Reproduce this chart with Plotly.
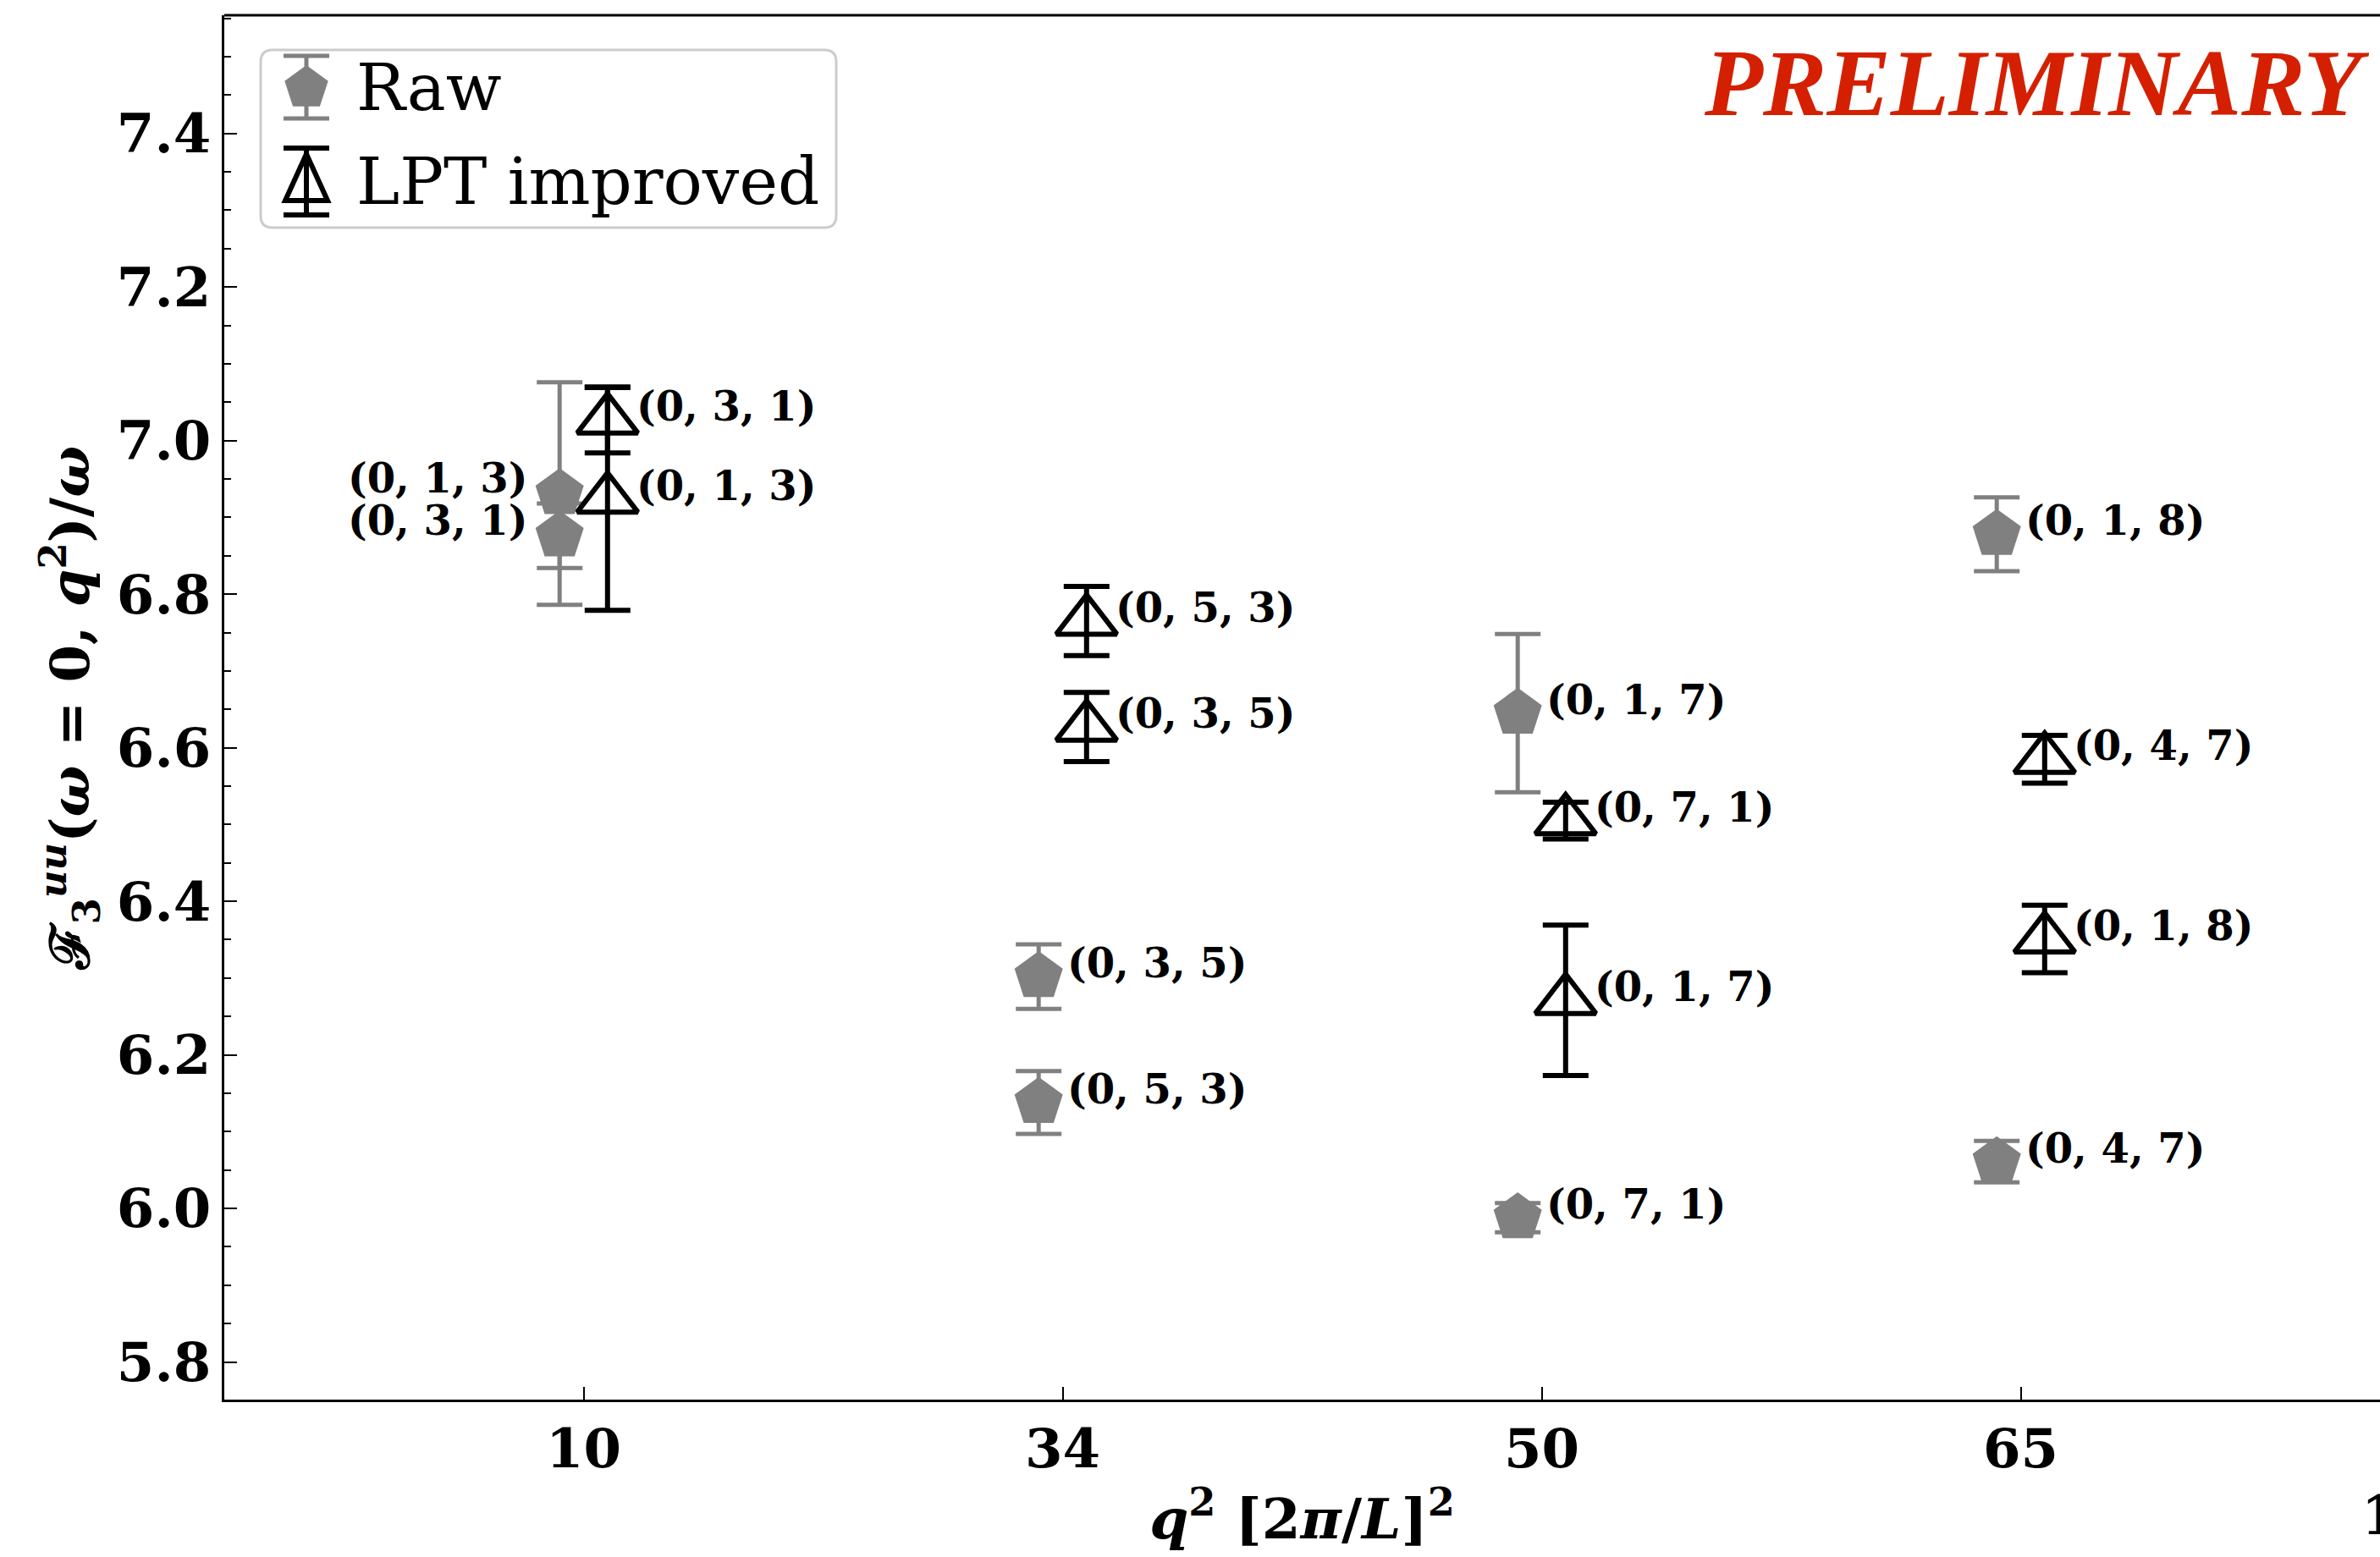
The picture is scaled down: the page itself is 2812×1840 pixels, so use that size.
import plotly.graph_objects as go

# ---------------- data ----------------
q2_ticks = ["10", "34", "50", "65"]

raw_q2 = ["10", "10", "34", "34", "50", "50", "65", "65"]
raw_val = [6.931, 6.876, 6.302, 6.138, 6.645, 5.988, 6.878, 6.061]
raw_err = [0.145, 0.042, 0.042, 0.041, 0.103, 0.019, 0.048, 0.027]
raw_lbl = ["(0, 1, 3)", "(0, 3, 1)", "(0, 3, 5)", "(0, 5, 3)",
           "(0, 1, 7)", "(0, 7, 1)", "(0, 1, 8)", "(0, 4, 7)"]

lpt_q2 = ["10", "10", "34", "34", "50", "50", "65", "65"]
lpt_val = [7.027, 6.924, 6.765, 6.627, 6.505, 6.271, 6.585, 6.351]
lpt_err = [0.043, 0.145, 0.045, 0.045, 0.024, 0.098, 0.031, 0.044]
lpt_lbl = ["(0, 3, 1)", "(0, 1, 3)", "(0, 5, 3)", "(0, 3, 5)",
           "(0, 7, 1)", "(0, 1, 7)", "(0, 4, 7)", "(0, 1, 8)"]

legend_names = ["Raw", "LPT improved"]

# ---------------- style ----------------
W, H = 2812, 1840
ML, MR, MT, MB = 265, 0, 18, 186
FONT = "DejaVu Serif"
GRAY = "#808080"
OFF = 0.05

pos = {q: i + 1 for i, q in enumerate(q2_ticks)}
raw_x = [pos[q] - OFF for q in raw_q2]
lpt_x = [pos[q] + OFF for q in lpt_q2]

fig = go.Figure()

fig.add_trace(go.Scatter(
    x=raw_x, y=raw_val, mode="markers", name=legend_names[0],
    marker=dict(symbol="pentagon", size=60, color=GRAY, line=dict(width=0)),
    error_y=dict(type="data", array=raw_err, visible=True, color=GRAY,
                 thickness=5, width=27),
    showlegend=False,
))
fig.add_trace(go.Scatter(
    x=lpt_x, y=lpt_val, mode="markers", name=legend_names[1],
    marker=dict(symbol="triangle-up-open", size=62, color="black",
                line=dict(width=6, color="black")),
    error_y=dict(type="data", array=lpt_err, visible=True, color="black",
                 thickness=6, width=27),
    showlegend=False,
))

annotations = []
for i, (x, y, t) in enumerate(zip(raw_x, raw_val, raw_lbl)):
    left = raw_q2[i] == q2_ticks[0]
    annotations.append(dict(
        x=x, y=y, xref="x", yref="y", text="<b>%s</b>" % t, showarrow=False,
        xanchor="right" if left else "left", yanchor="middle",
        xshift=-36 if left else 32, yshift=18 if left else 16,
        font=dict(family=FONT, size=48, color="black")))
for x, y, t in zip(lpt_x, lpt_val, lpt_lbl):
    annotations.append(dict(
        x=x, y=y, xref="x", yref="y", text="<b>%s</b>" % t, showarrow=False,
        xanchor="left", yanchor="middle", xshift=32, yshift=16,
        font=dict(family=FONT, size=48, color="black")))

PW = W - ML - MR
PH = H - MT - MB


def px(xp):
    return (xp - ML) / PW


def py(yp):
    return (H - MB - yp) / PH


annotations.append(dict(
    x=px(2802), y=py(97), xref="paper", yref="paper", text="<b><i>PRELIMINARY</i></b>",
    showarrow=False, xanchor="right", yanchor="middle",
    font=dict(family="Liberation Serif", size=113, color="#d42000")))
annotations.append(dict(
    x=px(2788), y=py(1790), xref="paper", yref="paper", text="<b>1</b>",
    showarrow=False, xanchor="left", yanchor="middle",
    font=dict(family=FONT, size=64, color="black")))

# legend text
for name, yc in zip(legend_names, [104, 214]):
    annotations.append(dict(
        x=px(419), y=py(yc), xref="paper", yref="paper", text=name,
        showarrow=False, xanchor="left", yanchor="middle",
        font=dict(family=FONT, size=77, color="black")))

shapes = []
# top frame line
shapes.append(dict(type="line", xref="paper", yref="paper", x0=0, x1=1, y0=1, y1=1,
                   line=dict(color="black", width=3)))


def pshape(xa, ya, path, **kw):
    d = dict(type="path", xref="paper", yref="paper", xsizemode="pixel",
             ysizemode="pixel", xanchor=px(xa), yanchor=py(ya), path=path)
    d.update(kw)
    return d


# legend box (rounded)
bw, bh, r = 680, 210, 14
box = ("M %d,0 H %d Q %d,0 %d,%d V %d Q %d,%d %d,%d H %d Q 0,%d 0,%d V %d Q 0,0 %d,0 Z"
       % (r, bw - r, bw, bw, -r, -(bh - r), bw, -bh, bw - r, -bh, r, -bh, -(bh - r), -r, r))
shapes.append(pshape(308, 59, box, fillcolor="rgba(255,255,255,0.8)",
                     line=dict(color="#cccccc", width=3), layer="above"))

# legend glyphs: error bars
for col, y0, y1, w in [(GRAY, 66, 140, 5), ("black", 175, 254, 6)]:
    eb = "M 0,0 V %d M -27,0 H 27 M -27,%d H 27" % (-(y1 - y0), -(y1 - y0))
    shapes.append(pshape(362, y0, eb, line=dict(color=col, width=w), layer="above"))
# pentagon
R = 27
pent = "M 0,%.1f L %.1f,%.1f L %.1f,%.1f L %.1f,%.1f L %.1f,%.1f Z" % (
    R, 0.951 * R, 0.309 * R, 0.588 * R, -0.809 * R, -0.588 * R, -0.809 * R,
    -0.951 * R, 0.309 * R)
shapes.append(pshape(362, 104, pent, fillcolor=GRAY, line=dict(width=0), layer="above"))
tri = "M 0,29 L 25,-26 L -25,-26 Z"
shapes.append(pshape(362, 211, tri, fillcolor="rgba(0,0,0,0)",
                     line=dict(color="black", width=6), layer="above"))

fig.update_layout(
    width=W, height=H, autosize=False,
    margin=dict(l=ML, r=MR, t=MT, b=MB, pad=0),
    paper_bgcolor="white", plot_bgcolor="white",
    showlegend=False,
    annotations=annotations,
    shapes=shapes,
    font=dict(family=FONT, color="black"),
)

fig.update_xaxes(
    range=[0.25, 4.75], tickmode="array", tickvals=list(range(1, len(q2_ticks) + 1)),
    ticktext=["<b>%s</b>" % t for t in q2_ticks],
    showline=True, linecolor="black", linewidth=3, mirror=False,
    ticks="inside", ticklen=15, tickwidth=2, tickcolor="black",
    showgrid=False, zeroline=False,
    tickfont=dict(family=FONT, size=64, color="black"),
    title=dict(text="<b><i>q</i><sup>2</sup> [2<i>π</i>/<i>L</i>]<sup>2</sup></b>",
               font=dict(family=FONT, size=66, color="black"), standoff=25),
)
fig.update_yaxes(
    range=[5.751, 7.554], tickmode="array",
    tickvals=[5.8, 6.0, 6.2, 6.4, 6.6, 6.8, 7.0, 7.2, 7.4],
    ticktext=["<b>%.1f</b>" % v for v in [5.8, 6.0, 6.2, 6.4, 6.6, 6.8, 7.0, 7.2, 7.4]],
    showline=True, linecolor="black", linewidth=3, mirror=False,
    ticks="inside", ticklen=15, tickwidth=2, tickcolor="black",
    minor=dict(dtick=0.05, tick0=5.8, ticks="inside", ticklen=8, tickwidth=2,
               tickcolor="black", showgrid=False),
    showgrid=False, zeroline=False,
    tickfont=dict(family=FONT, size=64, color="black"),
    title=dict(text="<b>ℱ<sub>3</sub><sup><i>uu</i></sup>(<i>ω</i> = 0, <i>q</i><sup>2</sup>)/<i>ω</i></b>",
               font=dict(family=FONT, size=64, color="black"), standoff=12),
)

fig.write_html("out.html")
